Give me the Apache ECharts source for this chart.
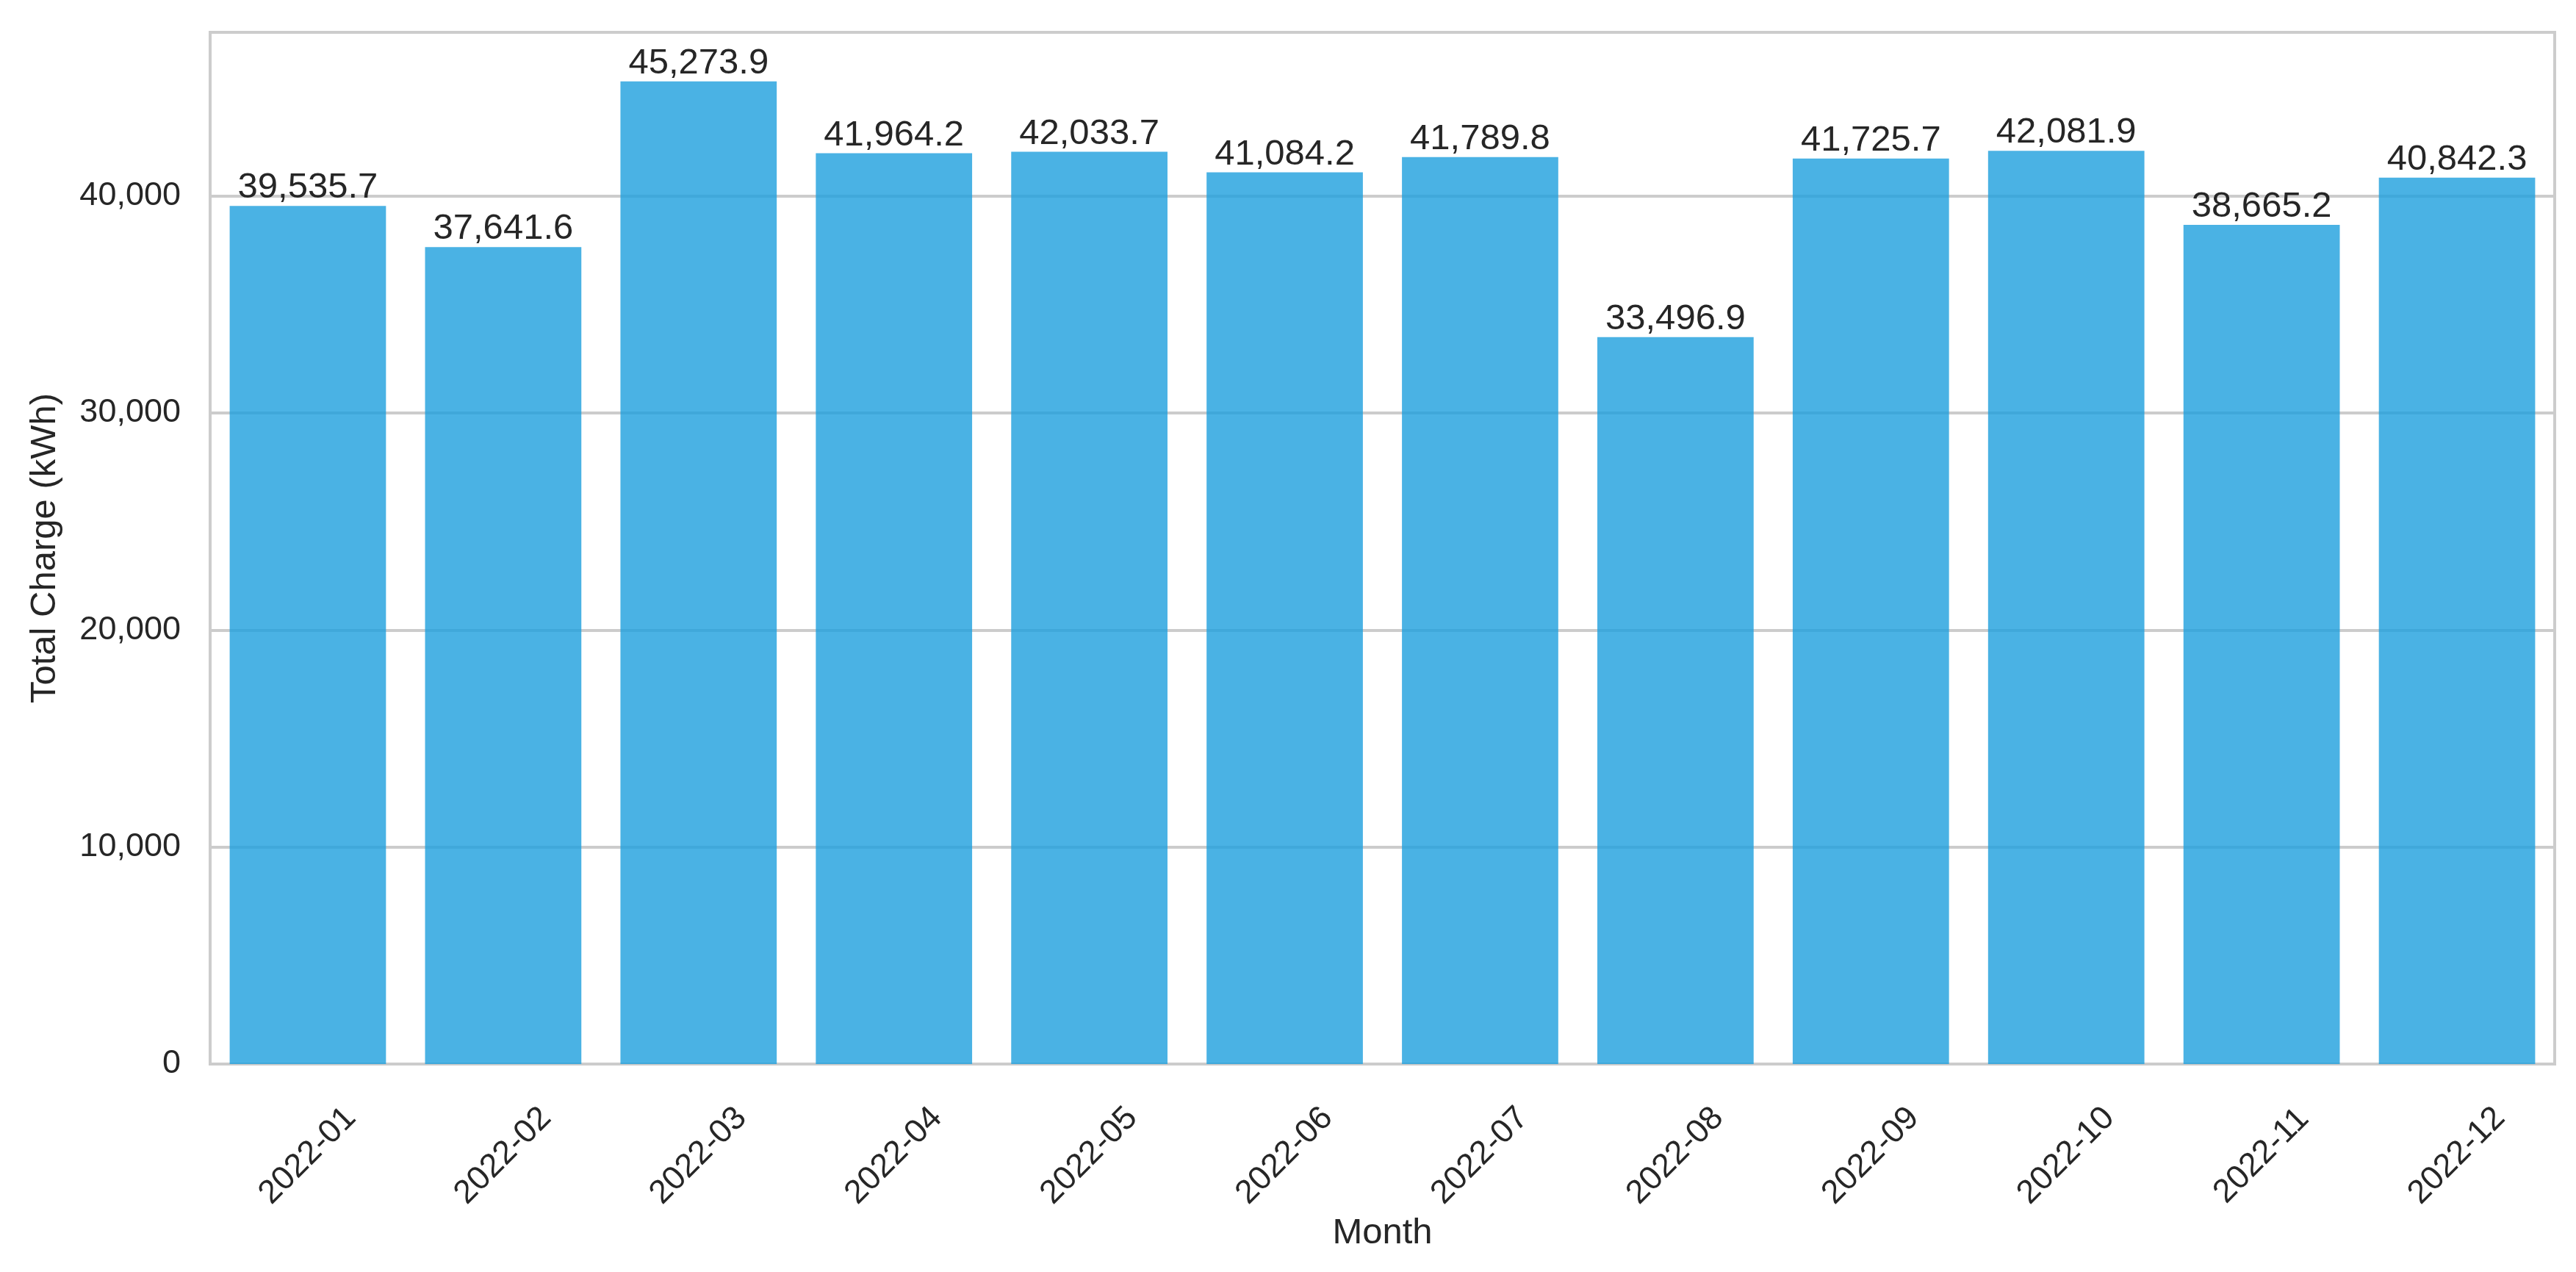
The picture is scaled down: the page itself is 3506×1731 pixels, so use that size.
<!DOCTYPE html>
<html>
<head>
<meta charset="utf-8">
<script src="https://cdn.jsdelivr.net/npm/echarts@6/dist/echarts.min.js"></script>
<style>
html, body { margin: 0; padding: 0; background: #ffffff; }
#chart { width: 3506px; height: 1731px; }
</style>
</head>
<body>
<div id="chart"></div>
<script>
const months = ['2022-01','2022-02','2022-03','2022-04','2022-05','2022-06','2022-07','2022-08','2022-09','2022-10','2022-11','2022-12'];
const totalCharge = [39535.7, 37641.6, 45273.9, 41964.2, 42033.7, 41084.2, 41789.8, 33496.9, 41725.7, 42081.9, 38665.2, 40842.3];
const yTicks = [0, 10000, 20000, 30000, 40000];
const xAxisTitle = 'Month';
const yAxisTitle = 'Total Charge (kWh)';

const FONT = "'Liberation Sans', Arial, sans-serif";
const TEXT = '#262626';
const yMax = Math.max(...totalCharge) * 1.05;

const chart = echarts.init(document.getElementById('chart'), null, { renderer: 'canvas' });
chart.setOption({
  animation: false,
  backgroundColor: '#ffffff',
  grid: {
    left: 286, right: 29, top: 44, bottom: 283,
    show: true, borderColor: '#cccccc', borderWidth: 4, backgroundColor: 'transparent',
    containLabel: false
  },
  xAxis: {
    type: 'category',
    data: months,
    name: xAxisTitle,
    nameLocation: 'middle',
    nameGap: 206,
    nameTextStyle: { fontFamily: FONT, fontSize: 49, color: TEXT },
    axisLine: { show: true, lineStyle: { color: '#cccccc', width: 4 } },
    axisTick: { show: false },
    splitLine: { show: false },
    axisLabel: {
      rotate: 45,
      align: 'center',
      verticalAlign: 'middle',
      margin: 125,
      fontFamily: FONT, fontSize: 45, color: TEXT
    }
  },
  yAxis: {
    type: 'value',
    min: 0,
    max: yMax,
    interval: 10000,
    name: yAxisTitle,
    nameLocation: 'middle',
    nameGap: 200,
    nameTextStyle: { fontFamily: FONT, fontSize: 49, color: TEXT },
    axisLine: { show: true, lineStyle: { color: '#cccccc', width: 4 } },
    axisTick: { show: false },
    splitLine: { show: true, lineStyle: { color: '#cccccc', width: 4 } },
    axisLabel: {
      showMaxLabel: false,
      margin: 40,
      fontFamily: FONT, fontSize: 45, color: TEXT,
      formatter: function (v) { return yTicks.indexOf(v) >= 0 ? v.toLocaleString('en-US') : ''; }
    }
  },
  series: [{
    type: 'bar',
    data: totalCharge,
    barCategoryGap: '20%',
    itemStyle: { color: 'rgba(29,159,221,0.8)' },
    label: {
      show: true,
      position: 'top',
      distance: 0,
      fontFamily: FONT, fontSize: 49, color: TEXT,
      formatter: function (p) {
        return p.value.toLocaleString('en-US', { minimumFractionDigits: 1, maximumFractionDigits: 1 });
      }
    }
  }]
});
</script>
</body>
</html>
